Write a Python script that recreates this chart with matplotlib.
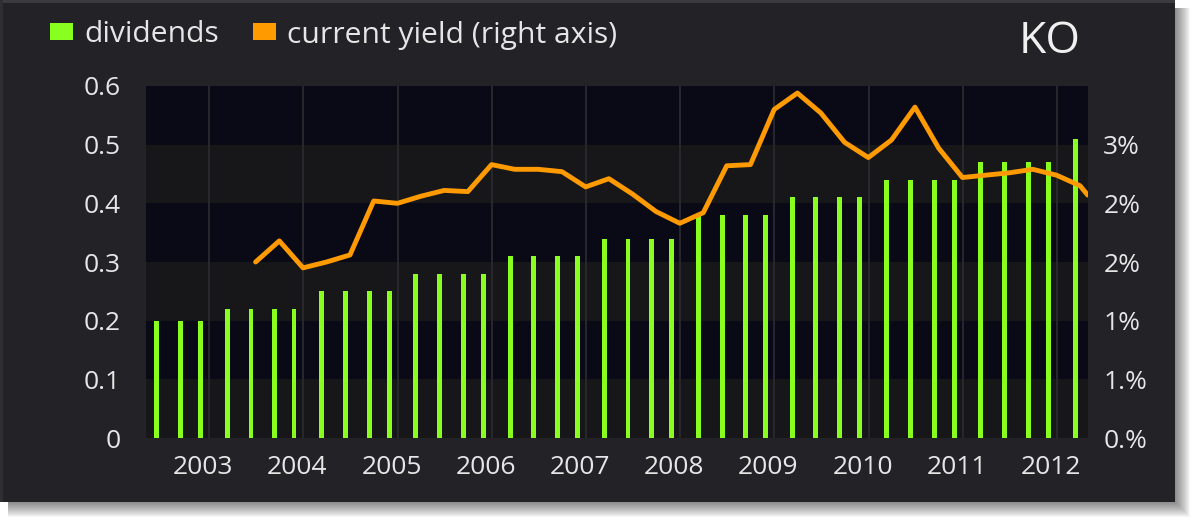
import matplotlib
matplotlib.use('Agg')
import matplotlib.pyplot as plt
import matplotlib.dates as mdates
import matplotlib.transforms as mtransforms
from matplotlib.patches import Rectangle, Patch
import pandas as pd

plt.rcParams['font.family'] = ['Open Sans', 'DejaVu Sans']

ticker = 'KO'

# quarterly dividends (ex-dividend dates)
div_dates = ['2002-06-12', '2002-09-12', '2002-11-27',
             '2003-03-13', '2003-06-12', '2003-09-11', '2003-11-26',
             '2004-03-11', '2004-06-14', '2004-09-13', '2004-11-29',
             '2005-03-11', '2005-06-13', '2005-09-13', '2005-11-29',
             '2006-03-13', '2006-06-13', '2006-09-13', '2006-11-29',
             '2007-03-13', '2007-06-13', '2007-09-12', '2007-11-28',
             '2008-03-12', '2008-06-12', '2008-09-11', '2008-11-26',
             '2009-03-12', '2009-06-11', '2009-09-11', '2009-11-27',
             '2010-03-11', '2010-06-11', '2010-09-13', '2010-11-29',
             '2011-03-11', '2011-06-13', '2011-09-13', '2011-11-29',
             '2012-03-13']
dividends = [0.20, 0.20, 0.20,
             0.22, 0.22, 0.22, 0.22,
             0.25, 0.25, 0.25, 0.25,
             0.28, 0.28, 0.28, 0.28,
             0.31, 0.31, 0.31, 0.31,
             0.34, 0.34, 0.34, 0.34,
             0.38, 0.38, 0.38, 0.38,
             0.41, 0.41, 0.41, 0.41,
             0.44, 0.44, 0.44, 0.44,
             0.47, 0.47, 0.47, 0.47,
             0.51]

# current yield in percent, quarter ends
yield_dates = ['2003-06-30', '2003-09-30', '2003-12-31',
               '2004-03-31', '2004-06-30', '2004-09-30', '2004-12-31',
               '2005-03-31', '2005-06-30', '2005-09-30', '2005-12-31',
               '2006-03-31', '2006-06-30', '2006-09-30', '2006-12-31',
               '2007-03-31', '2007-06-30', '2007-09-30', '2007-12-31',
               '2008-03-31', '2008-06-30', '2008-09-30', '2008-12-31',
               '2009-03-31', '2009-06-30', '2009-09-30', '2009-12-31',
               '2010-03-31', '2010-06-30', '2010-09-30', '2010-12-31',
               '2011-03-31', '2011-06-30', '2011-09-30', '2011-12-31',
               '2012-03-31', '2012-04-30']
yield_pct = [2.00, 2.18, 1.95,
             2.00, 2.06, 2.52, 2.50,
             2.56, 2.61, 2.60, 2.83,
             2.79, 2.79, 2.77, 2.64,
             2.71, 2.58, 2.43, 2.33,
             2.42, 2.82, 2.83, 3.30,
             3.44, 3.27, 3.02, 2.89,
             3.04, 3.32, 2.97, 2.72,
             2.74, 2.76, 2.79, 2.74,
             2.65, 2.57]

years = list(range(2003, 2013))
left_ticks = [0, 0.1, 0.2, 0.3, 0.4, 0.5, 0.6]
left_labels = ['0', '0.1', '0.2', '0.3', '0.4', '0.5', '0.6']
right_ticks = [0.5, 1.0, 1.5, 2.0, 2.5, 3.0]
right_labels = ['0.%', '1.%', '1%', '2%', '2%', '3%']

W, H = 1200, 523
card_bg = '#222227'
band_dark = '#0a0a17'
band_light = '#171719'
grid_col = '#2c2c31'
text_col = '#e6e6e6'
bar_col = '#88ff1e'
line_col = '#ff9a00'

fig = plt.figure(figsize=(W / 100, H / 100), dpi=100)
fig.patch.set_facecolor('white')

# card shadow + card, kept behind the axes
card_w, card_h = 1175, 502
for k in range(1, 16):
    fig.patches.append(Rectangle((8 / W, 1 - (card_h + k) / H), (card_w + k - 8) / W, (card_h + k - 8) / H,
                                 transform=fig.transFigure, facecolor='black', alpha=0.035,
                                 edgecolor='none', zorder=-3))
fig.patches.append(Rectangle((0, 1 - card_h / H), card_w / W, card_h / H, transform=fig.transFigure,
                             facecolor=card_bg, edgecolor='none', zorder=-2))
fig.patches.append(Rectangle((0, 1 - 3 / H), card_w / W, 3 / H, transform=fig.transFigure,
                             facecolor='#3a3a3f', edgecolor='none', zorder=-1))
fig.patches.append(Rectangle((0, 1 - card_h / H), 3 / W, card_h / H, transform=fig.transFigure,
                             facecolor='#2e2e33', edgecolor='none', zorder=-1))

ax = fig.add_axes([146 / W, 1 - 438 / H, 942 / W, 352 / H])
ax.set_facecolor('none')
for i in range(6):
    ax.axhspan(left_ticks[i], left_ticks[i] + 0.1, color=band_light if i % 2 == 0 else band_dark,
               lw=0, zorder=0)

year_x = mdates.date2num(pd.to_datetime([f'{y}-01-01' for y in years]))
for x in year_x:
    ax.axvline(x, color=grid_col, lw=1.2, zorder=1)

bx = mdates.date2num(pd.to_datetime(div_dates))
ax.bar(bx, dividends, width=19, color=bar_col, zorder=2)

ax.set_xlim(mdates.date2num(pd.Timestamp('2002-05-01')), mdates.date2num(pd.Timestamp('2012-05-01')))
ax.set_ylim(0, 0.6)
ax.set_xticks(year_x)
ax.set_xticklabels([str(y) for y in years])
ax.set_yticks(left_ticks)
ax.set_yticklabels(left_labels)
ax.tick_params(axis='x', length=0, pad=12, labelsize=19, colors=text_col)
ax.tick_params(axis='y', length=0, pad=18, labelsize=19, colors=text_col)
shift = mtransforms.ScaledTranslation(-6 / 100, 0, fig.dpi_scale_trans)
for lab in ax.get_xticklabels():
    lab.set_transform(lab.get_transform() + shift)
for s in ax.spines.values():
    s.set_visible(False)

ax2 = ax.twinx()
ly = mdates.date2num(pd.to_datetime(yield_dates))
ax2.plot(ly, yield_pct, color=line_col, lw=3.5, solid_joinstyle='round', solid_capstyle='round', zorder=3)
ax2.set_ylim(0.5, 3.5)
ax2.set_yticks(right_ticks)
ax2.set_yticklabels(right_labels)
ax2.tick_params(axis='y', length=0, pad=11, labelsize=19, colors=text_col)
for s in ax2.spines.values():
    s.set_visible(False)

handles = [Patch(facecolor=bar_col, edgecolor='none', label='dividends'),
           Patch(facecolor=line_col, edgecolor='none', label='current yield (right axis)')]
leg = fig.legend(handles=handles, loc='center left', bbox_to_anchor=(50 / W, 1 - 35 / H), ncol=2,
                 frameon=False, fontsize=21.6, handlelength=0.75, handleheight=0.48, handletextpad=0.38,
                 columnspacing=1.15, borderpad=0, borderaxespad=0)
for t in leg.get_texts():
    t.set_color(text_col)

fig.text(1081 / W, 1 - 42 / H, ticker, ha='right', va='center', fontsize=32, color='#f0f0f0')

fig.savefig('out.png', dpi=100, facecolor=fig.get_facecolor())
